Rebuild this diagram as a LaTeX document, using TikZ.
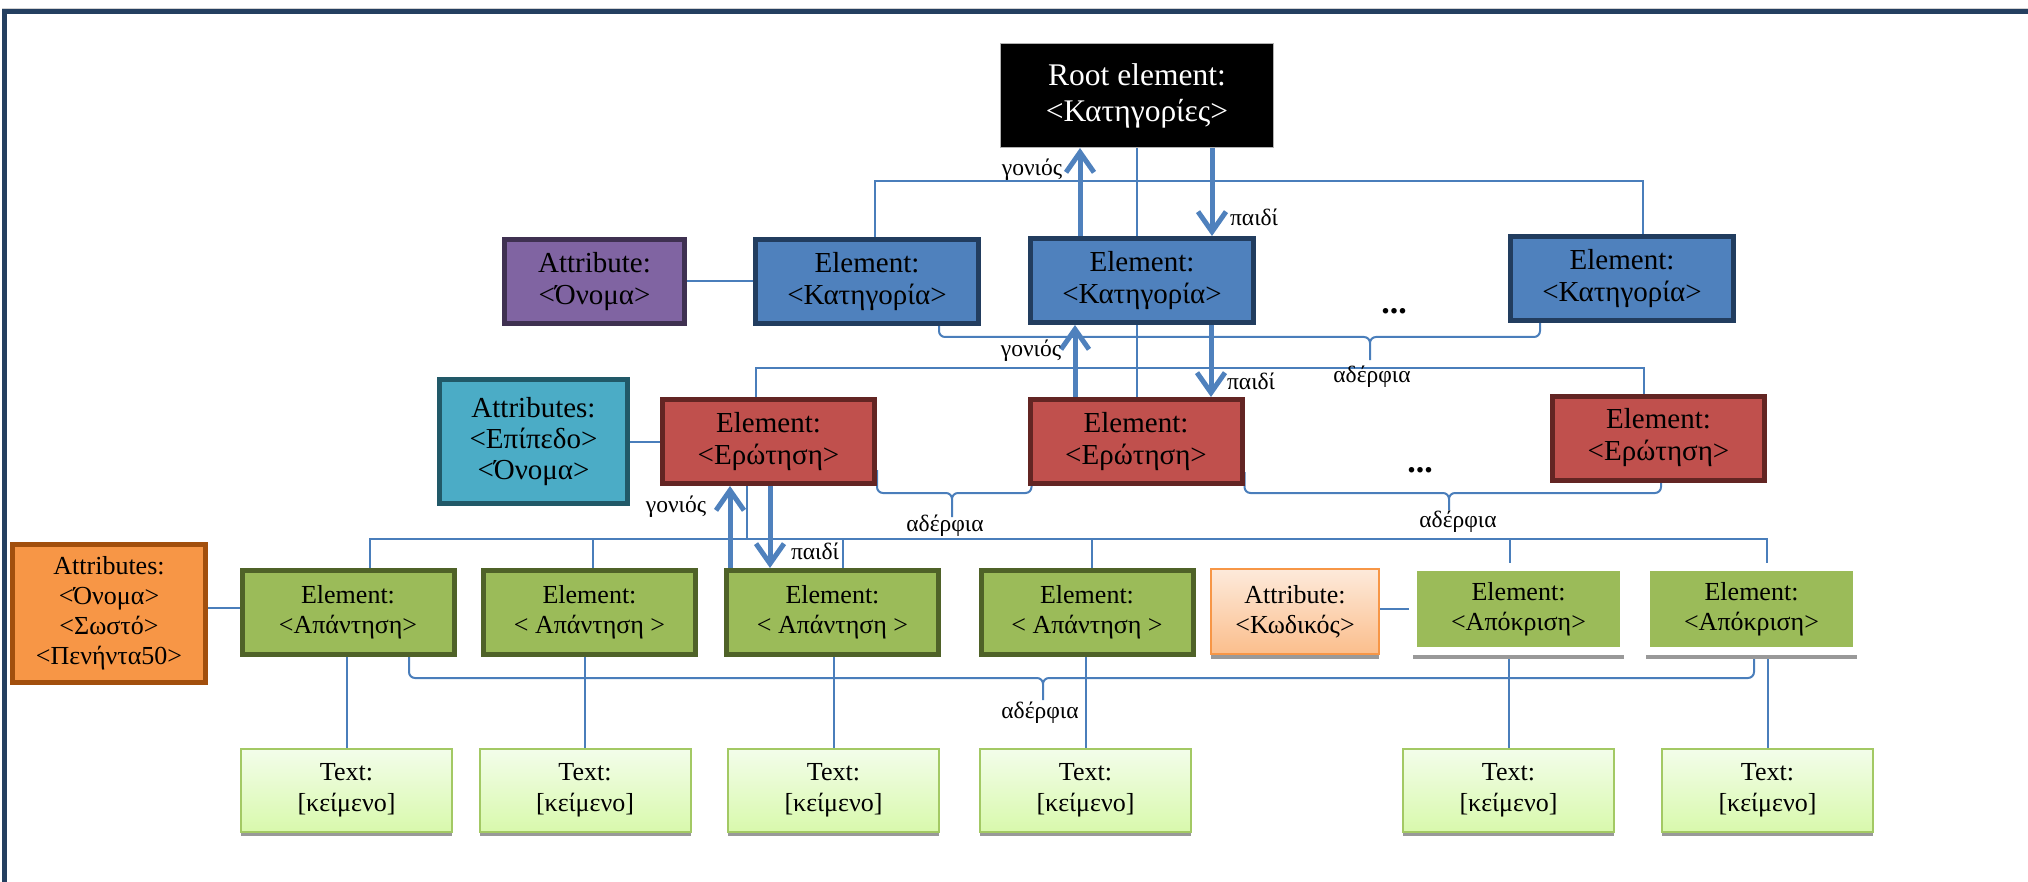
\documentclass[tikz,border=0pt]{standalone}
\usepackage{fontspec}
\setmainfont{Liberation Serif}
\usetikzlibrary{arrows.meta,backgrounds,shadows}

\definecolor{linkblue}{HTML}{4A7EBB}
\definecolor{arrowblue}{HTML}{4F81BD}
\definecolor{catfill}{HTML}{4F81BD}
\definecolor{catdraw}{HTML}{223D5F}
\definecolor{qfill}{HTML}{C0504D}
\definecolor{qdraw}{HTML}{632523}
\definecolor{ansfill}{HTML}{9BBB59}
\definecolor{ansdraw}{HTML}{4F6228}
\definecolor{attpurple}{HTML}{8064A2}
\definecolor{attpurpledraw}{HTML}{3F3151}
\definecolor{attcyan}{HTML}{4BACC6}
\definecolor{attcyandraw}{HTML}{215968}
\definecolor{attorange}{HTML}{F79646}
\definecolor{attorangedraw}{HTML}{A24F0D}
\definecolor{framenavy}{HTML}{243F60}
\definecolor{txttop}{HTML}{F3FDEA}
\definecolor{txtbot}{HTML}{D8F9AC}
\definecolor{txtdraw}{HTML}{A3C964}
\definecolor{codetop}{HTML}{FDEADB}
\definecolor{codebot}{HTML}{FBBE8C}

\tikzset{
  rootbox/.style={draw=gray!60, fill=black, text=white, line width=1pt, align=center, inner sep=0pt,
    minimum width=273pt, minimum height=104pt, font=\fontsize{31.5}{36}\selectfont},
  catbox/.style={draw=catdraw, fill=catfill, line width=5pt, align=center, inner sep=0pt,
    minimum width=223pt, minimum height=84pt, font=\fontsize{29}{32}\selectfont},
  qbox/.style={draw=qdraw, fill=qfill, line width=5pt, align=center, inner sep=0pt,
    minimum width=212pt, minimum height=84pt, font=\fontsize{29}{32}\selectfont},
  ansbox/.style={draw=ansdraw, fill=ansfill, line width=5pt, align=center, inner sep=0pt,
    minimum width=212pt, minimum height=84pt, font=\fontsize{26}{30}\selectfont},
  respbox/.style={draw=white, fill=ansfill, line width=8pt, align=center, inner sep=0pt,
    minimum width=211pt, minimum height=84pt, font=\fontsize{26}{30}\selectfont,
    drop shadow={shadow xshift=0pt, shadow yshift=-8pt, fill=black!40, opacity=1}},
  txtbox/.style={draw=txtdraw, top color=txttop, bottom color=txtbot, line width=2pt, align=center,
    inner sep=0pt, minimum width=211pt, minimum height=83pt, font=\fontsize{26}{31.5}\selectfont,
    drop shadow={shadow xshift=0pt, shadow yshift=-4pt, fill=black!40, opacity=1}},
  attpbox/.style={draw=attpurpledraw, fill=attpurple, line width=5pt, align=center, inner sep=0pt,
    minimum width=180pt, minimum height=84pt, font=\fontsize{29}{32}\selectfont},
  attcbox/.style={draw=attcyandraw, fill=attcyan, line width=5pt, align=center, inner sep=0pt,
    minimum width=188pt, minimum height=124pt, font=\fontsize{29}{31}\selectfont},
  attobox/.style={draw=attorangedraw, fill=attorange, line width=5pt, align=center, inner sep=0pt,
    minimum width=193pt, minimum height=138pt, font=\fontsize{26}{30}\selectfont},
  attkbox/.style={draw=attorange, top color=codetop, bottom color=codebot, line width=2pt, align=center,
    inner sep=0pt, minimum width=168pt, minimum height=85pt, font=\fontsize{26}{30}\selectfont,
    drop shadow={shadow xshift=0pt, shadow yshift=-5pt, fill=black!40, opacity=1}},
  link/.style={linkblue, line width=2pt},
  sibbrace/.style={linkblue, line width=2pt, rounded corners=6pt},
  famarrow/.style={arrowblue, line width=5pt, -{Straight Barb[length=20pt,width=28pt]}},
  lbl/.style={inner sep=0pt, font=\fontsize{23.5}{26}\selectfont},
  moredots/.style={inner sep=0pt, font=\fontsize{34}{34}\selectfont\bfseries}
}

\begin{document}
\begin{tikzpicture}[x=1pt,y=-1pt]
\useasboundingbox (0,0) rectangle (2028,882);

\draw [gray!35, line width=1pt] (2,8.5) -- (2028,8.5);
\draw [framenavy, line width=5pt] (4.5,882) -- (4.5,11.5) -- (2028,11.5);

\node [rootbox] (root) at (1137,95.5) {Root element:\\<Κατηγορίες>};

\node [attpbox] (attrP) at (594.5,281.5) {Attribute:\\<Όνομα>};
\node [catbox] (blueA) at (867,281.5) {Element:\\<Κατηγορία>};
\node [catbox] (blueB) at (1142,280.5) {Element:\\<Κατηγορία>};
\node [catbox] (blueC) at (1622,278.5) {Element:\\<Κατηγορία>};
\node [moredots] (moreCat) at (1394,311) {...};

\node [attcbox] (attrC) at (533.5,441.5) {Attributes:\\<Επίπεδο>\\<Όνομα>};
\node [qbox] (redA) at (768.5,441.5) {Element:\\<Ερώτηση>};
\node [qbox] (redB) at (1136,441.5) {Element:\\<Ερώτηση>};
\node [qbox] (redC) at (1658.5,438) {Element:\\<Ερώτηση>};
\node [moredots] (moreQ) at (1420,470) {...};

\node [attobox] (attrO) at (109,613.5) {Attributes:\\<Όνομα>\\<Σωστό>\\<Πενήντα50>};
\node [ansbox] (greenA) at (348,612.5) {Element:\\<Απάντηση>};
\node [ansbox] (greenB) at (589.5,612.5) {Element:\\< Απάντηση >};
\node [ansbox] (greenC) at (832.5,612.5) {Element:\\< Απάντηση >};
\node [ansbox] (greenD) at (1087,612.5) {Element:\\< Απάντηση >};
\node [attkbox] (attrK) at (1295,611.5) {Attribute:\\<Κωδικός>};
\node [respbox] (greenE) at (1518.5,609) {Element:\\<Απόκριση>};
\node [respbox] (greenF) at (1751.5,609) {Element:\\<Απόκριση>};

\foreach \n/\x in {txtA/346.5, txtB/585, txtC/833.5, txtD/1085.5, txtE/1508.5, txtF/1767.5}
  \node [txtbox] (\n) at (\x,790.5) {Text:\\{}[κείμενο]};

\begin{pgfonlayer}{background}
\coordinate (busA) at (0,181);
\coordinate (busB) at (0,368);
\coordinate (busC) at (0,539);
\draw [link] ([xshift=8pt]blueA.north) |- ([xshift=21pt]blueC.north |- busA) -- ([xshift=21pt]blueC.north);
\draw [link] (root.south) -- (root.south |- blueB.north);
\draw [link] (root.south |- blueB.south) -- (root.south |- redB.north);
\draw [link] ([xshift=-12.5pt]redA.north) |- ([xshift=-14.5pt]redC.north |- busB) -- ([xshift=-14.5pt]redC.north);
\draw [link] ([xshift=22pt]greenA.north) |- ([xshift=15.5pt]greenF.north |- busC) -- ([xshift=15.5pt]greenF.north);
\foreach \n/\dx in {greenB/3.5, greenC/10.5, greenD/5, greenE/-8.5}
  \draw [link] ([xshift=\dx pt]\n.north |- busC) -- ([xshift=\dx pt]\n.north);
\draw [link] ([xshift=-21.5pt]redA.south) -- ([xshift=-21.5pt]redA.south |- busC);
\foreach \t/\g in {txtA/greenA, txtB/greenB, txtC/greenC, txtD/greenD, txtE/greenE, txtF/greenF}
  \draw [link] (\t.north |- \g.south) -- (\t.north);
\draw [link] (attrP) -- (blueA);
\draw [link] (attrC) -- (redA);
\draw [link] ([yshift=5pt]attrO.east |- greenA.west) -- ([yshift=5pt]greenA.west);
\draw [link] (attrK.east |- greenE.west) -- (greenE.west);

\coordinate (tipCat) at (1370,360);
\coordinate (tipQA) at (952,517);
\coordinate (tipQB) at (1449,510);
\coordinate (tipAns) at (1043,700);
\draw [sibbrace] ([xshift=72pt,yshift=4pt]blueA.south) |- ([yshift=23pt]tipCat) -- (tipCat)
  ([xshift=-82pt,yshift=4pt]blueC.south) |- ([yshift=23pt]tipCat) -- (tipCat);
\draw [sibbrace] ([yshift=16pt]redA.south east) |- ([yshift=24pt]tipQA) -- (tipQA)
  ([xshift=4pt,yshift=16pt]redB.south west) |- ([yshift=24pt]tipQA) -- (tipQA);
\draw [sibbrace] ([yshift=14pt]redB.south east) |- ([yshift=17pt]tipQB) -- (tipQB)
  ([xshift=2.5pt,yshift=11pt]redC.south) |- ([yshift=17pt]tipQB) -- (tipQB);
\draw [sibbrace] ([xshift=61pt,yshift=2pt]greenA.south) |- ([yshift=22pt]tipAns) -- (tipAns)
  ([xshift=2.5pt]greenF.south) |- ([yshift=22pt]tipAns) -- (tipAns);
\end{pgfonlayer}

\draw [famarrow] ([xshift=-62pt]blueB.north) -- ([xshift=-62pt]blueB.north |- root.south);
\draw [famarrow] ([xshift=75pt]root.south) -- ([xshift=75pt]root.south |- blueB.north);
\draw [famarrow] ([xshift=-61pt]redB.north) -- ([xshift=-61pt]redB.north |- blueB.south);
\draw [famarrow] ([xshift=69pt]blueB.south) -- ([xshift=69pt]blueB.south |- redB.north);
\draw [famarrow] ([xshift=-102.5pt]greenC.north) -- ([xshift=-102.5pt]greenC.north |- redA.south);
\draw [famarrow] ([xshift=1.5pt]redA.south) -- ([xshift=1.5pt]redA.south |- greenC.north);

\node [lbl] (lblUpA) at (1032,170) {γονιός};
\node [lbl] (lblDnA) at (1254,217) {παιδί};
\node [lbl] (lblUpB) at (1031,351) {γονιός};
\node [lbl] (lblDnB) at (1251,381) {παιδί};
\node [lbl] (lblUpC) at (676,507) {γονιός};
\node [lbl] (lblDnC) at (815,551) {παιδί};
\node [lbl] (sibA) at (1372,377) {αδέρφια};
\node [lbl] (sibB) at (945,526) {αδέρφια};
\node [lbl] (sibC) at (1458,522) {αδέρφια};
\node [lbl] (sibD) at (1040,713) {αδέρφια};
\end{tikzpicture}
\end{document}
